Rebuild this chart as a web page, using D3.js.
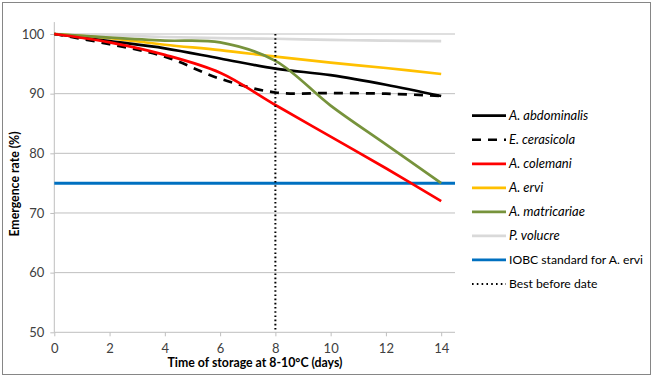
<!DOCTYPE html>
<html><head><meta charset="utf-8">
<script src="https://d3js.org/d3.v7.min.js"></script>
<style>body{margin:0;background:#fff}svg{display:block}text{font-family:Lato,"Open Sans",sans-serif}</style>
</head><body>
<script>
const days = [0, 2, 4, 6, 8, 10, 12, 14];
const abdominalis = [100, 98.8, 97.6, 95.9, 94.2, 93.1, 91.5, 89.6];
const cerasicola  = [100, 98.3, 96.2, 92.5, 90.2, 90.1, 90.0, 89.6];
const colemani    = [100, 98.6, 96.5, 93.5, 88.1, 82.8, 77.5, 72.0];
const ervi        = [100, 99.3, 98.2, 97.3, 96.2, 95.2, 94.3, 93.3];
const matricariae = [100, 99.4, 98.9, 98.6, 95.5, 88.0, 81.5, 75.0];
const volucre     = [100, 99.8, 99.5, 99.3, 99.2, 99.0, 98.9, 98.8];
const iobcStandard = 75;
const bestBefore = 8;
const xTicks = [0, 2, 4, 6, 8, 10, 12, 14];
const yTicks = [50, 60, 70, 80, 90, 100];
const seriesNames = ["A. abdominalis", "E. cerasicola", "A. colemani", "A. ervi", "A. matricariae", "P. volucre"];
const seriesValues = [abdominalis, cerasicola, colemani, ervi, matricariae, volucre];
const seriesColors = ["#000000", "#000000", "#FF0000", "#FFC000", "#77933C", "#D9D9D9"];
const seriesDash = [null, "9,7", null, null, null, null];
const legendExtra = ["IOBC standard for A. ervi", "Best before date"];

const W = 654, H = 378;
const svg = d3.select("body").append("svg").attr("width", W).attr("height", H);
svg.append("rect").attr("x", 2.5).attr("y", 2.5).attr("width", 648).attr("height", 372)
  .attr("fill", "#fff").attr("stroke", "#868686").attr("stroke-width", 1);

const x = d3.scaleLinear().domain([0, 14.5]).range([54.3, 455]);
const y = d3.scaleLinear().domain([50, 100]).range([332.3, 34]);

// gridlines
svg.append("g").selectAll("line").data(yTicks.filter(d => d > 50)).join("line")
  .attr("x1", x(0)).attr("x2", x(14.5)).attr("y1", d => y(d)).attr("y2", d => y(d))
  .attr("stroke", "#BFBFBF").attr("stroke-width", 1);

// y axis
const yAxis = svg.append("g").attr("transform", `translate(${x(0)},0)`)
  .call(d3.axisLeft(y).tickValues(yTicks).tickSize(4).tickPadding(6));
yAxis.select(".domain").remove();
yAxis.selectAll(".tick line").attr("stroke", "#BFBFBF");
yAxis.selectAll("text").attr("font-size", 13).attr("fill", "#404040");
svg.append("line").attr("x1", x(0)).attr("x2", x(0)).attr("y1", y(102)).attr("y2", y(50))
  .attr("stroke", "#BFBFBF");

// x axis
const xAxis = svg.append("g").attr("transform", `translate(0,${y(50)})`)
  .call(d3.axisBottom(x).tickValues(xTicks).tickSize(4).tickPadding(7));
xAxis.select(".domain").attr("stroke", "#BFBFBF").attr("d", `M${x(0)},0H${x(14.5)}`);
xAxis.selectAll(".tick line").attr("stroke", "#BFBFBF");
xAxis.selectAll("text").attr("font-size", 13).attr("fill", "#404040");

// IOBC standard
svg.append("line").attr("x1", x(0)).attr("x2", x(14.5)).attr("y1", y(iobcStandard)).attr("y2", y(iobcStandard))
  .attr("stroke", "#0070C0").attr("stroke-width", 3);

// series
const line = d3.line().x((d, i) => x(days[i])).y(d => y(d)).curve(d3.curveCatmullRom.alpha(0.5));
const order = [5, 3, 0, 1, 4, 2];
order.forEach(i => {
  svg.append("path").attr("d", line(seriesValues[i])).attr("fill", "none")
    .attr("stroke", seriesColors[i]).attr("stroke-width", 2.7)
    .attr("stroke-dasharray", seriesDash[i]);
});

// best before date
svg.append("line").attr("x1", x(bestBefore)).attr("x2", x(bestBefore)).attr("y1", y(100)).attr("y2", y(50))
  .attr("stroke", "#000").attr("stroke-width", 2).attr("stroke-dasharray", "1.6,2.6");

// axis titles
svg.append("text").attr("x", 255).attr("y", 367).attr("text-anchor", "middle")
  .attr("font-size", 12.3).attr("font-weight", "bold").text("Time of storage at 8-10°C (days)");
svg.append("text").attr("transform", "translate(19,184) rotate(-90)").attr("text-anchor", "middle")
  .attr("font-size", 12.3).attr("font-weight", "bold").text("Emergence rate (%)");

// legend
const legY = d3.scaleLinear().domain([0, 7]).range([115.7, 284]);
const lg = svg.append("g");
seriesNames.forEach((n, i) => {
  lg.append("line").attr("x1", 472).attr("x2", 506).attr("y1", legY(i)).attr("y2", legY(i))
    .attr("stroke", seriesColors[i]).attr("stroke-width", 2.7).attr("stroke-dasharray", seriesDash[i]);
  lg.append("text").attr("x", 509).attr("y", legY(i)).attr("dy", "0.35em").attr("font-size", 13)
    .attr("font-style", "italic").attr("fill", "#000").text(n);
});
lg.append("line").attr("x1", 472).attr("x2", 506).attr("y1", legY(6)).attr("y2", legY(6))
  .attr("stroke", "#0070C0").attr("stroke-width", 2.7);
lg.append("text").attr("x", 509).attr("y", legY(6)).attr("dy", "0.35em").attr("font-size", 12.2).text(legendExtra[0]);
lg.append("line").attr("x1", 472).attr("x2", 506).attr("y1", legY(7)).attr("y2", legY(7))
  .attr("stroke", "#000").attr("stroke-width", 2).attr("stroke-dasharray", "1.6,3.2");
lg.append("text").attr("x", 509).attr("y", legY(7)).attr("dy", "0.35em").attr("font-size", 12.2).text(legendExtra[1]);
</script>
</body></html>
